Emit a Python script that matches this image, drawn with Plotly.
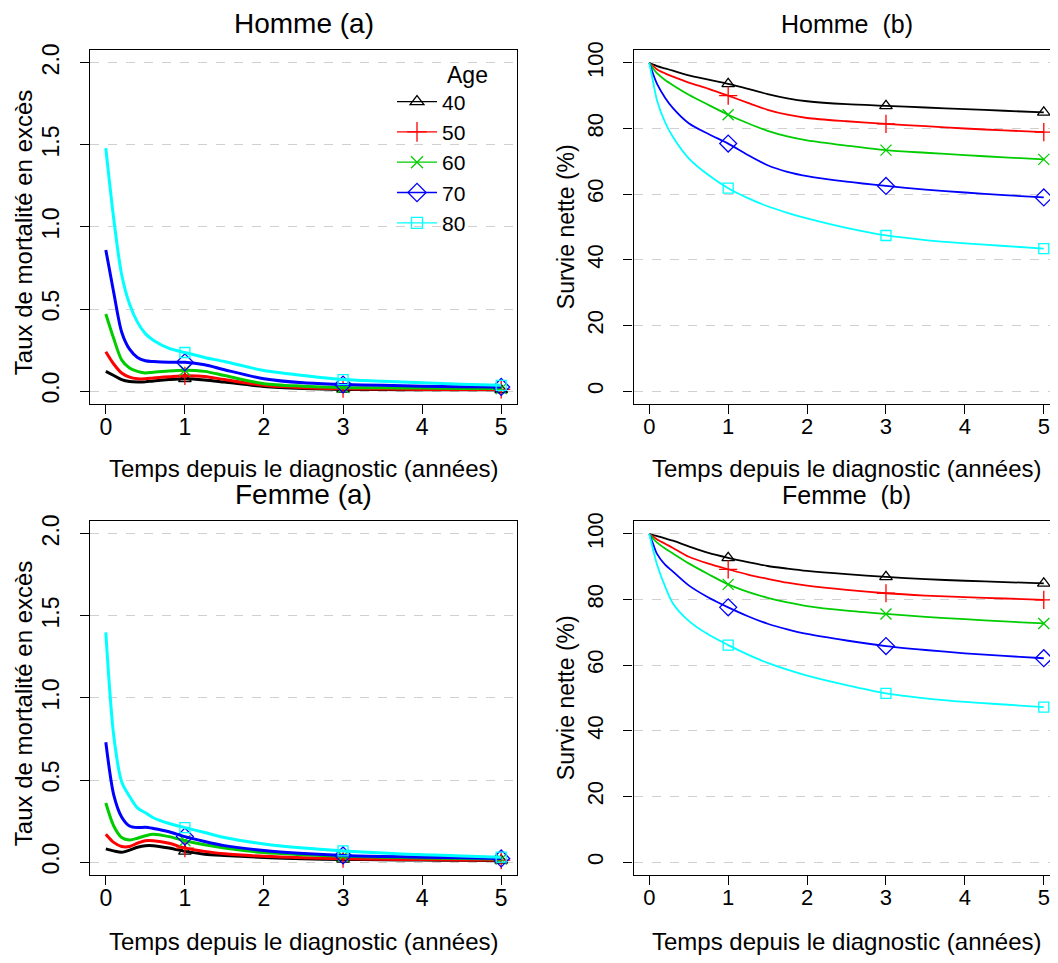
import plotly.graph_objects as go

# The page body has an 8px margin; the figure is sized so that it fills the
# 1058x963 window exactly, and all layout positions below are page pixels.
PAGE_W, PAGE_H = 1058, 963
OFF = 8
DY = -3
W, H = PAGE_W - 2 * OFF, PAGE_H - 2 * OFF
FONT = "Liberation Sans, Arial, Helvetica, sans-serif"

ages = ["40", "50", "60", "70", "80"]
colors = ["#000000", "#FF0000", "#00CD00", "#0000FF", "#00FFFF"]
symbols = ["triangle-up-open", "cross-thin-open", "x-thin-open", "diamond-open", "square-open"]
marker_sizes = [12, 14, 12, 14, 11]
marker_times = [1, 3, 5]

# Panel (a): excess mortality rate
t_hazard = [0, 0.1, 0.2, 0.3, 0.4, 0.5, 0.6, 0.8, 1.0, 1.25, 1.5, 2.0, 2.5, 3.0, 3.5, 4.0, 4.5, 5.0]
hazard_homme = [
    [0.12, 0.095, 0.07, 0.058, 0.055, 0.056, 0.062, 0.07, 0.075, 0.068, 0.055, 0.028, 0.016, 0.010, 0.009, 0.008, 0.008, 0.008],
    [0.24, 0.165, 0.11, 0.085, 0.075, 0.075, 0.08, 0.087, 0.093, 0.089, 0.07, 0.035, 0.02, 0.014, 0.012, 0.010, 0.010, 0.010],
    [0.47, 0.32, 0.19, 0.14, 0.12, 0.11, 0.115, 0.123, 0.127, 0.12, 0.095, 0.045, 0.03, 0.022, 0.020, 0.018, 0.016, 0.015],
    [0.86, 0.60, 0.36, 0.255, 0.205, 0.185, 0.18, 0.175, 0.175, 0.16, 0.13, 0.075, 0.05, 0.04, 0.035, 0.030, 0.027, 0.025],
    [1.48, 1.05, 0.71, 0.53, 0.42, 0.35, 0.31, 0.26, 0.235, 0.205, 0.18, 0.125, 0.095, 0.07, 0.06, 0.05, 0.042, 0.035],
]
hazard_femme = [
    [0.08, 0.068, 0.06, 0.073, 0.09, 0.10, 0.10, 0.085, 0.065, 0.048, 0.04, 0.028, 0.02, 0.016, 0.014, 0.012, 0.011, 0.010],
    [0.17, 0.12, 0.095, 0.095, 0.115, 0.13, 0.13, 0.115, 0.085, 0.065, 0.05, 0.035, 0.026, 0.02, 0.017, 0.015, 0.013, 0.012],
    [0.36, 0.22, 0.15, 0.135, 0.145, 0.16, 0.17, 0.155, 0.13, 0.105, 0.085, 0.058, 0.045, 0.035, 0.03, 0.025, 0.022, 0.018],
    [0.73, 0.41, 0.275, 0.22, 0.21, 0.212, 0.205, 0.185, 0.155, 0.125, 0.10, 0.07, 0.052, 0.04, 0.034, 0.03, 0.026, 0.022],
    [1.40, 0.77, 0.49, 0.40, 0.33, 0.30, 0.27, 0.235, 0.21, 0.18, 0.15, 0.11, 0.085, 0.068, 0.055, 0.045, 0.037, 0.03],
]

# Panel (b): net survival (%)
t_surv = [0, 0.05, 0.1, 0.2, 0.3, 0.5, 0.75, 1, 1.25, 1.5, 1.75, 2, 2.5, 3, 3.5, 4, 4.5, 5]
surv_homme = [
    [100, 99.5, 99.0, 98.3, 97.6, 96.2, 94.9, 93.6, 92.1, 90.5, 89.2, 88.3, 87.4, 86.9, 86.4, 85.9, 85.4, 84.9],
    [100, 99.0, 98.0, 96.8, 95.8, 94.0, 92.1, 90.0, 87.8, 85.7, 84.2, 83.2, 82.2, 81.4, 80.7, 80.0, 79.4, 78.9],
    [100, 98.2, 96.8, 94.8, 93.2, 90.3, 87.2, 84.2, 81.6, 79.3, 77.6, 76.4, 74.8, 73.4, 72.6, 71.9, 71.2, 70.6],
    [100, 96.5, 93.5, 89.4, 86.2, 81.6, 78.3, 75.4, 71.9, 68.8, 66.8, 65.5, 63.8, 62.5, 61.4, 60.5, 59.7, 59.0],
    [100, 94.0, 88.4, 81.9, 77.4, 70.9, 65.8, 61.8, 58.8, 56.3, 54.3, 52.6, 49.7, 47.4, 46.0, 45.0, 44.2, 43.4],
]
surv_femme = [
    [100, 99.6, 99.3, 98.6, 97.9, 96.2, 94.2, 92.7, 91.4, 90.2, 89.4, 88.7, 87.7, 86.9, 86.2, 85.7, 85.3, 84.9],
    [100, 99.1, 98.3, 97.0, 95.7, 93.0, 90.9, 89.2, 87.6, 86.3, 85.1, 84.2, 82.9, 81.9, 81.2, 80.7, 80.3, 79.9],
    [100, 98.5, 97.3, 95.5, 94.0, 91.0, 87.7, 84.6, 82.3, 80.5, 79.1, 78.0, 76.6, 75.6, 74.7, 74.0, 73.3, 72.7],
    [100, 96.8, 93.8, 90.6, 88.5, 84.3, 80.6, 77.6, 74.9, 72.6, 70.9, 69.5, 67.5, 65.8, 64.6, 63.6, 62.8, 62.1],
    [100, 95.0, 90.5, 84.0, 78.8, 73.5, 69.3, 66.1, 63.2, 60.7, 58.6, 56.8, 53.9, 51.4, 49.9, 48.8, 48.0, 47.2],
]

titles = ["Homme (a)", "Homme  (b)", "Femme (a)", "Femme  (b)"]
xlab = "Temps depuis le diagnostic (années)"
ylab_a = "Taux de mortalité en excès"
ylab_b = "Survie nette (%)"
xticks = [0, 1, 2, 3, 4, 5]
yticks_a = [0.0, 0.5, 1.0, 1.5, 2.0]
yticks_b = [0, 20, 40, 60, 80, 100]


def px_x(v):
    return min(1.0, max(0.0, (v - OFF) / W))


def px_y(v):
    return min(1.0, max(0.0, 1 - (v + DY - OFF) / H))


# panel boxes in page pixels (left, right) / (top, bottom)
L_BOX = (90, 517)
R_BOX = (633.5, PAGE_W - OFF)
T_BOX = (45, 402.5)
B_BOX = (520, 877.5)
R_XMAX = -0.2 + (R_BOX[1] - R_BOX[0]) / 78.9

fig = go.Figure()

panels = [
    ("x", "y", t_hazard, hazard_homme, 3.0),
    ("x2", "y2", t_surv, surv_homme, 1.8),
    ("x3", "y3", t_hazard, hazard_femme, 3.0),
    ("x4", "y4", t_surv, surv_femme, 1.8),
]

for xa, ya, tt, series, lw in panels:
    for i, ys in enumerate(series):
        fig.add_trace(go.Scatter(
            x=tt, y=ys, xaxis=xa, yaxis=ya, mode="lines",
            line=dict(color=colors[i], width=lw, shape="spline", smoothing=0.8),
            showlegend=False, hoverinfo="skip"))
        mx = [t for t in tt if t in marker_times]
        my = [y for t, y in zip(tt, ys) if t in marker_times]
        fig.add_trace(go.Scatter(
            x=mx, y=my, xaxis=xa, yaxis=ya, mode="markers",
            marker=dict(symbol=symbols[i], size=marker_sizes[i] - 1, color=colors[i],
                        line=dict(color=colors[i], width=1.3)),
            showlegend=False, hoverinfo="skip", cliponaxis=False))

# legend entries
for i, a in enumerate(ages):
    fig.add_trace(go.Scatter(
        x=[None], y=[None], xaxis="x", yaxis="y", mode="lines+markers", name=a,
        line=dict(color=colors[i], width=1.3),
        marker=dict(symbol=symbols[i], size=marker_sizes[i], color=colors[i],
                    line=dict(color=colors[i], width=1.3)),
        showlegend=True))

axis_common = dict(
    showline=True, linecolor="black", linewidth=1.2,
    ticks="outside", ticklen=9, tickwidth=1.2, tickcolor="black",
    zeroline=False,
)

layout = dict(
    width=W, height=H, margin=dict(l=0, r=0, t=0, b=0),
    paper_bgcolor="white", plot_bgcolor="white",
    font=dict(family=FONT, color="black"),
    showlegend=True,
    legend=dict(x=px_x(392), y=px_y(77), xanchor="left", yanchor="top",
                bgcolor="rgba(0,0,0,0)", font=dict(family=FONT, size=21, color="black"),
                itemwidth=40, tracegroupgap=0),
)

xdefs = {
    "xaxis": (L_BOX, [-0.2, 5.2], "y", 23),
    "xaxis2": (R_BOX, [-0.2, R_XMAX], "y2", 22),
    "xaxis3": (L_BOX, [-0.2, 5.2], "y3", 23),
    "xaxis4": (R_BOX, [-0.2, R_XMAX], "y4", 22),
}
for name, (xb, rng, anchor, fs) in xdefs.items():
    d = dict(axis_common)
    d.update(domain=[px_x(xb[0]), px_x(xb[1])], range=rng, tickvals=xticks,
             ticktext=[str(v) for v in xticks], showgrid=False, mirror=True, anchor=anchor,
             tickfont=dict(family=FONT, size=fs, color="black"), ticklabelstandoff=-7)
    layout[name] = d

ydefs = {
    "yaxis": (T_BOX, [-0.08, 2.08], yticks_a, True, "x", "{:.1f}", 23),
    "yaxis2": (T_BOX, [-4, 104], yticks_b, False, "x2", "{:d}", 22),
    "yaxis3": (B_BOX, [-0.08, 2.08], yticks_a, True, "x3", "{:.1f}", 23),
    "yaxis4": (B_BOX, [-4, 104], yticks_b, False, "x4", "{:d}", 22),
}
for name, (yb, rng, tv, mir, anchor, fmt, fs) in ydefs.items():
    d = dict(axis_common)
    d.update(domain=[px_y(yb[1]), px_y(yb[0])], range=rng, tickvals=tv,
             ticktext=[fmt.format(v) for v in tv], tickangle=-90,
             showgrid=True, gridcolor="#d0d0d0", griddash="dash", gridwidth=1,
             mirror=mir, anchor=anchor, ticklabelstandoff=12,
             tickfont=dict(family=FONT, size=fs, color="black"))
    layout[name] = d

fig.update_layout(**layout)

ann = []
# titles
title_pos = [(303.5, 19, 28), (846.8, 19, 25), (303.5, 494, 28), (846.8, 494, 25)]
for txt, (cx, cy, fs) in zip(titles, title_pos):
    ann.append(dict(text=txt, x=px_x(cx), y=px_y(cy), xref="paper", yref="paper",
                    xanchor="center", yanchor="middle", showarrow=False,
                    font=dict(family=FONT, size=fs, color="black")))
# x-axis titles
for cx, cy in [(303.5, 467), (846.8, 467), (303.5, 944), (846.8, 944)]:
    ann.append(dict(text=xlab, x=px_x(cx), y=px_y(cy), xref="paper", yref="paper",
                    xanchor="center", yanchor="middle", showarrow=False,
                    font=dict(family=FONT, size=24, color="black")))
# y-axis titles
for txt, cx, cy, fs in [(ylab_a, 23, 230, 24), (ylab_b, 566, 224, 23),
                        (ylab_a, 23, 705, 24), (ylab_b, 566, 699, 23)]:
    ann.append(dict(text=txt, x=px_x(cx), y=px_y(cy), xref="paper", yref="paper",
                    xanchor="center", yanchor="middle", showarrow=False, textangle=-90,
                    font=dict(family=FONT, size=fs, color="black")))
# legend title
ann.append(dict(text="Age", x=px_x(445), y=px_y(70), xref="paper", yref="paper",
                xanchor="left", yanchor="middle", showarrow=False,
                font=dict(family=FONT, size=23, color="black")))
fig.update_layout(annotations=ann)

fig.write_html("out.html")
